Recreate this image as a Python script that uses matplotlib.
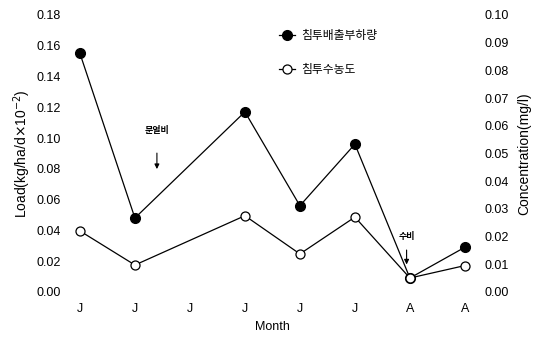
import matplotlib
matplotlib.use('Agg')
import matplotlib.pyplot as plt

plt.rcParams['font.family'] = ['Liberation Sans', 'Noto Sans CJK KR', 'DejaVu Sans']

# sampling positions along the month axis (tick index)
months = ['J', 'J', 'J', 'J', 'J', 'J', 'A', 'A']
sample_pos = [0, 1, 3, 4, 5, 6, 7]
load = [0.155, 0.048, 0.117, 0.056, 0.096, 0.009, 0.029]
conc = [0.022, 0.0097, 0.0275, 0.0137, 0.027, 0.005, 0.0095]

load_ticks = [0.00, 0.02, 0.04, 0.06, 0.08, 0.10, 0.12, 0.14, 0.16, 0.18]
conc_ticks = [0.00, 0.01, 0.02, 0.03, 0.04, 0.05, 0.06, 0.07, 0.08, 0.09, 0.10]

fig = plt.figure(figsize=(5.47, 3.39), dpi=100)
ax = fig.add_axes([0.126, 0.139, 0.744, 0.817])
ax2 = ax.twinx()

l1, = ax.plot(sample_pos, load, 'k-', marker='o', markersize=7, linewidth=0.9,
              markerfacecolor='black', label='침투배출부하량')
l2, = ax2.plot(sample_pos, conc, 'k-', marker='o', markersize=6.5, linewidth=0.9,
               markerfacecolor='white', markeredgewidth=0.9, label='침투수농도')

ax.set_xlim(-0.2, 7.2)
ax.set_ylim(0, 0.18)
ax2.set_ylim(0, 0.10)

ax.set_xticks(range(len(months)))
ax.set_xticklabels(months)
ax.set_yticks(load_ticks)
ax.set_yticklabels(['%.2f' % v for v in load_ticks])
ax2.set_yticks(conc_ticks)
ax2.set_yticklabels(['%.2f' % v for v in conc_ticks])

for a in (ax, ax2):
    for s in a.spines.values():
        s.set_visible(False)
    a.tick_params(length=0, labelsize=9)
ax.tick_params(axis='y', pad=6)
ax2.tick_params(axis='y', pad=6)
ax.tick_params(axis='x', pad=8)

ax.set_xlabel('Month', fontsize=9, labelpad=4)
ax.set_ylabel(r'Load(kg/ha/d$\times$10$^{-2}$)', fontsize=10, labelpad=2)
ax2.set_ylabel('Concentration(mg/l)', fontsize=10, labelpad=6)

# fertilizer application markers
ax.annotate('', xy=(1.4, 0.078), xytext=(1.4, 0.092),
            arrowprops=dict(arrowstyle='-|>', color='black', lw=0.8, mutation_scale=7))
ax.text(1.4, 0.105, '분얼비', ha='center', va='center', fontsize=6.5, fontweight='bold')
ax.annotate('', xy=(5.94, 0.016), xytext=(5.94, 0.029),
            arrowprops=dict(arrowstyle='-|>', color='black', lw=0.8, mutation_scale=7))
ax.text(5.94, 0.036, '수비', ha='center', va='center', fontsize=6.5, fontweight='bold')

ax.legend(handles=[l1, l2], loc='upper left', bbox_to_anchor=(0.49, 0.985),
          frameon=False, fontsize=8.5, handlelength=1.4, labelspacing=1.9,
          handletextpad=0.5)

fig.savefig('out.png', dpi=100)
